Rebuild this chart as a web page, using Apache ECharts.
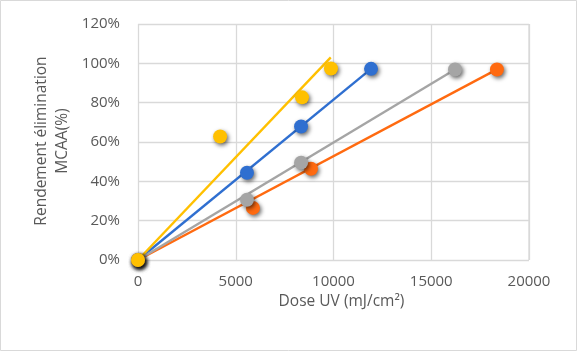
<!DOCTYPE html>
<html>
<head>
<meta charset="utf-8">
<script src="https://cdn.jsdelivr.net/npm/echarts@6/dist/echarts.min.js"></script>
<style>
html,body{margin:0;padding:0;background:#fff;}
#c{width:577px;height:351px;}
</style>
</head>
<body>
<div id="c"></div>
<script>
// Data (dose in mJ/cm², yield in fraction)
const blueX = [0, 5575, 8340, 11920];
const blueY = [0, 0.444, 0.679, 0.972];
const orangeX = [0, 5880, 8850, 18360];
const orangeY = [0, 0.265, 0.464, 0.969];
const grayX = [0, 5575, 8340, 16215];
const grayY = [0, 0.306, 0.495, 0.969];
const yellowX = [0, 4200, 8390, 9870];
const yellowY = [0, 0.628, 0.827, 0.974];

// Trendline endpoints, each from origin
const blueTrendX = [0, 11920];
const blueTrendY = [0, 0.972];
const orangeTrendX = [0, 18360];
const orangeTrendY = [0, 0.969];
const grayTrendX = [0, 16215];
const grayTrendY = [0, 0.969];
const yellowTrendX = [0, 9860];
const yellowTrendY = [0, 1.030];

const xTicks = [0, 5000, 10000, 15000, 20000];
const yTicks = [0, 0.2, 0.4, 0.6, 0.8, 1.0, 1.2];

const colors = {blue:'#2f6fd0', orange:'#ff6a10', gray:'#a5a5a5', yellow:'#ffc000'};
const font = 'Open Sans';

function pairs(xs, ys){ return xs.map((x,i)=>[x, ys[i]]); }

function trend(name, xs, ys, color){
  return {type:'line', name:name, data:pairs(xs,ys), symbol:'none', z:2,
    lineStyle:{color:color, width:2.4}, silent:true, animation:false};
}
function pts(name, xs, ys, color){
  return {type:'scatter', name:name, data:pairs(xs,ys), symbolSize:14, z:3,
    itemStyle:{color:color, opacity:1, shadowColor:'rgba(0,0,0,0.6)', shadowBlur:4, shadowOffsetX:1.5, shadowOffsetY:2},
    animation:false};
}

const chart = echarts.init(document.getElementById('c'), null, {renderer:'canvas'});
chart.setOption({
  backgroundColor:'#fff',
  animation:false,
  grid:{left:138, right:48, top:24, bottom:91, containLabel:false},
  xAxis:{type:'value', min:0, max:20000, interval:5000,
    name:'Dose UV (mJ/cm²)', nameLocation:'middle', nameGap:33,
    nameTextStyle:{color:'#595959', fontFamily:font, fontSize:15.5, padding:[0,0,0,16]},
    axisLine:{show:false}, axisTick:{show:false},
    axisLabel:{color:'#595959', fontFamily:font, fontSize:15, margin:14, formatter:v=>String(v)},
    splitLine:{show:true, lineStyle:{color:'#d9d9d9', width:1.3}}
  },
  yAxis:{type:'value', min:0, max:1.2, interval:0.2,
    axisLine:{show:false}, axisTick:{show:false},
    axisLabel:{color:'#595959', fontFamily:font, fontSize:15, margin:18,
      formatter:v=>Math.round(v*100)+'%'},
    splitLine:{show:true, lineStyle:{color:'#d9d9d9', width:1.3}}
  },
  graphic:[
    {type:'rect', shape:{x:0.5, y:0.5, width:576, height:350}, style:{fill:'none', stroke:'#d9d9d9', lineWidth:1}, silent:true},
    {type:'line', shape:{x1:529, y1:24, x2:529, y2:260}, style:{stroke:'#d9d9d9', lineWidth:1.3}, silent:true},
    {type:'text', x:42, y:141, rotation:Math.PI/2, style:{text:'Rendement élimination', fill:'#595959', font:'15.5px "Open Sans"', align:'center', verticalAlign:'middle'}},
    {type:'text', x:63, y:141, rotation:Math.PI/2, style:{text:'MCAA(%)', fill:'#595959', font:'15.5px "Open Sans"', align:'center', verticalAlign:'middle'}}
  ],
  series:[
    trend('blueT', blueTrendX, blueTrendY, colors.blue),
    trend('orangeT', orangeTrendX, orangeTrendY, colors.orange),
    trend('grayT', grayTrendX, grayTrendY, colors.gray),
    trend('yellowT', yellowTrendX, yellowTrendY, colors.yellow),
    pts('blue', blueX, blueY, colors.blue),
    pts('orange', orangeX, orangeY, colors.orange),
    pts('gray', grayX, grayY, colors.gray),
    pts('yellow', yellowX, yellowY, colors.yellow)
  ]
});
</script>
</body>
</html>
